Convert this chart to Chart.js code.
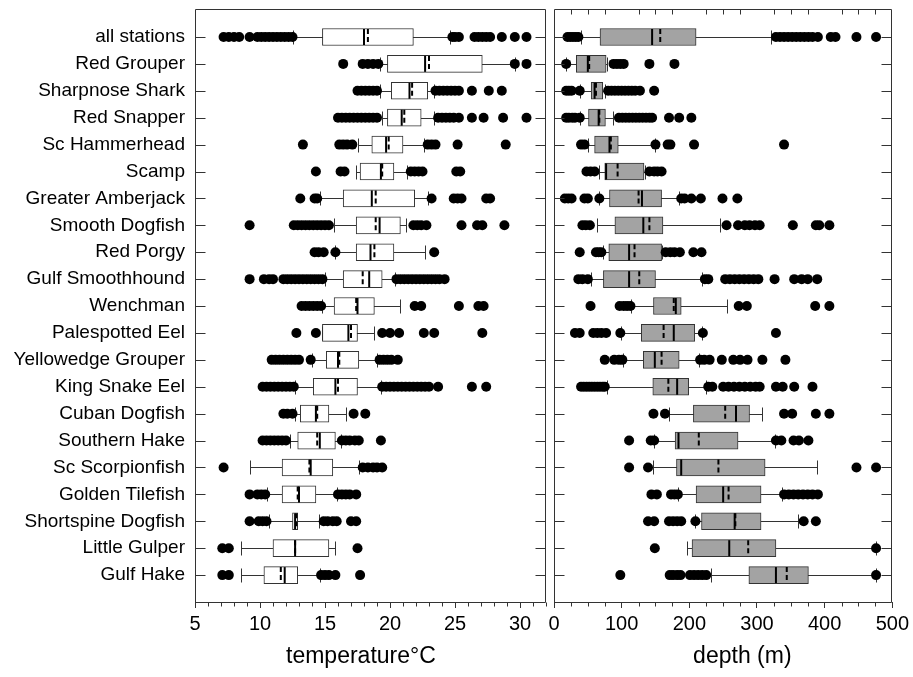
<!DOCTYPE html>
<html>
<head>
<meta charset="utf-8">
<script src="https://cdn.jsdelivr.net/npm/chart.js@4.4.0/dist/chart.umd.min.js"></script>
<style>
  body { margin: 0; background: #fff; }
  #wrap { position: relative; width: 913px; height: 677px; }
  canvas { position: absolute; top: 0; }
</style>
</head>
<body>
<div id="wrap">
  <canvas id="tempChart" width="551" height="677" style="left:0"></canvas>
  <canvas id="depthChart" width="378" height="677" style="left:535px"></canvas>
</div>
<script>
const species = [
  'all stations', 'Red Grouper', 'Sharpnose Shark', 'Red Snapper', 'Sc Hammerhead',
  'Scamp', 'Greater Amberjack', 'Smooth Dogfish', 'Red Porgy', 'Gulf Smoothhound',
  'Wenchman', 'Palespotted Eel', 'Yellowedge Grouper', 'King Snake Eel', 'Cuban Dogfish',
  'Southern Hake', 'Sc Scorpionfish', 'Golden Tilefish', 'Shortspine Dogfish',
  'Little Gulper', 'Gulf Hake'
];

// temperature (deg C): whisker ends, quartiles, median, mean
const tempLo   = [12.5, 19.2, 19.2, 19.4, 17.5, 17.4, 14.6, 15.7, 15.8, 15.0, 14.8, 14.8, 14.0, 12.7, 12.7, 12.3, 9.2, 10.5, 10.7, 8.5, 8.5];
const tempQ1   = [14.8, 19.8, 20.1, 19.8, 18.6, 17.7, 16.4, 17.4, 17.4, 16.4, 15.7, 14.8, 15.1, 14.1, 13.1, 12.9, 11.7, 11.7, 12.5, 11.0, 10.3];
const tempMed  = [18.0, 22.7, 21.5, 20.9, 19.7, 19.3, 18.6, 19.2, 18.5, 18.4, 17.5, 16.8, 16.0, 15.8, 14.3, 14.6, 13.9, 13.0, 12.7, 12.7, 11.9];
const tempMean = [18.3, 23.0, 21.7, 21.1, 19.9, 19.4, 18.9, 18.9, 18.8, 17.9, 17.4, 17.0, 16.1, 16.0, 14.4, 14.4, 13.8, 12.9, 12.8, 12.7, 11.6];
const tempQ3   = [21.8, 27.1, 22.9, 22.4, 21.0, 20.3, 21.9, 20.8, 20.3, 19.4, 18.8, 17.5, 17.6, 17.5, 15.3, 15.8, 15.6, 14.3, 12.9, 15.3, 12.9];
const tempHi   = [24.6, 29.6, 23.4, 23.4, 22.6, 21.3, 22.9, 21.2, 22.7, 20.4, 20.8, 18.8, 19.0, 19.3, 16.6, 16.2, 17.6, 15.9, 14.5, 15.8, 14.6];
const tempOut = [
  [7.2, 7.6, 8.0, 8.4, 9.2, 9.8, 10.1, 10.4, 10.7, 11.0, 11.3, 11.6, 11.9, 12.2, 12.5, 24.8, 25.0, 25.3, 26.5, 26.8, 27.1, 27.4, 27.7, 28.6, 29.6, 30.5],
  [16.4, 17.9, 18.3, 18.7, 19.1, 29.6, 30.5],
  [17.5, 17.8, 18.1, 18.4, 18.7, 19.0, 23.5, 23.8, 24.1, 24.4, 24.7, 25.0, 25.3, 26.3, 27.6, 28.6],
  [16.0, 16.3, 16.6, 16.9, 17.2, 17.5, 17.8, 18.1, 18.4, 18.7, 19.0, 23.7, 24.0, 24.3, 24.6, 24.9, 25.3, 26.3, 27.2, 28.7, 30.5],
  [13.3, 16.1, 16.4, 16.7, 17.1, 22.9, 23.2, 23.5, 25.2, 28.9],
  [14.3, 16.2, 16.5, 21.6, 21.9, 22.2, 22.5, 25.1, 25.4],
  [13.1, 14.2, 14.4, 23.2, 24.9, 25.2, 25.5, 27.4, 27.7],
  [9.2, 12.6, 12.9, 13.2, 13.5, 13.8, 14.1, 14.4, 14.7, 15.0, 15.3, 21.8, 22.1, 22.4, 22.8, 25.5, 26.7, 27.1, 28.8],
  [14.2, 14.5, 14.9, 15.8, 23.4],
  [9.2, 10.3, 10.7, 11.0, 11.8, 12.1, 12.4, 12.7, 13.0, 13.3, 13.6, 13.9, 14.2, 14.5, 14.8, 20.5, 20.8, 21.1, 21.4, 21.7, 22.0, 22.3, 22.6, 22.9, 23.2, 23.5, 23.8, 24.2],
  [13.2, 13.5, 13.8, 14.1, 14.4, 14.7, 21.9, 22.4, 25.3, 26.8, 27.2],
  [12.8, 14.3, 19.4, 20.0, 20.7, 22.6, 23.4, 27.1],
  [10.9, 11.2, 11.5, 11.8, 12.1, 12.4, 12.7, 13.0, 13.9, 19.2, 19.5, 19.8, 20.1, 20.6],
  [10.2, 10.5, 10.8, 11.1, 11.4, 11.7, 12.0, 12.3, 12.6, 19.4, 19.7, 20.0, 20.3, 20.6, 20.9, 21.2, 21.5, 21.8, 22.1, 22.4, 22.7, 23.0, 23.7, 26.3, 27.4],
  [11.8, 12.1, 12.5, 17.2, 18.1],
  [10.2, 10.5, 10.8, 11.1, 11.4, 11.7, 12.0, 16.3, 16.6, 16.9, 17.3, 17.6, 19.3],
  [7.2, 17.9, 18.3, 18.7, 19.0, 19.4],
  [9.2, 9.8, 10.1, 10.4, 16.0, 16.3, 16.6, 16.9, 17.4],
  [9.2, 9.9, 10.2, 10.5, 14.9, 15.2, 15.6, 15.9, 17.0, 17.4],
  [7.1, 7.6, 17.5],
  [7.1, 7.6, 14.7, 15.0, 15.3, 15.8, 17.7]
];
const tempTicks = [5, 10, 15, 20, 25, 30];

// depth (m)
const depthLo   = [40, 18, 38, 38, 50, 66, 67, 63, 72, 55, 114, 99, 102, 78, 170, 148, 146, 183, 209, 197, 232];
const depthQ1   = [68, 33, 55, 51, 60, 75, 82, 90, 81, 73, 147, 129, 132, 146, 206, 179, 181, 210, 218, 204, 288];
const depthMed  = [145, 50, 60, 66, 82, 77, 130, 132, 111, 111, 180, 177, 149, 182, 269, 184, 188, 250, 267, 259, 328];
const depthMean = [157, 52, 62, 67, 84, 94, 125, 141, 119, 126, 177, 162, 159, 169, 253, 214, 243, 258, 268, 287, 344];
const depthQ3   = [210, 77, 72, 76, 95, 133, 159, 161, 159, 150, 188, 208, 185, 199, 289, 272, 312, 306, 306, 328, 376];
const depthHi   = [321, 79, 75, 87, 149, 135, 185, 246, 160, 219, 256, 219, 214, 224, 307, 326, 389, 337, 360, 476, 476];
const depthOut = [
  [20, 24, 28, 32, 36, 328, 334, 340, 346, 352, 358, 364, 370, 376, 382, 390, 409, 416, 447, 476],
  [18, 88, 93, 98, 103, 141, 178],
  [18, 22, 26, 38, 80, 85, 90, 95, 100, 105, 110, 115, 120, 127, 148],
  [18, 22, 27, 31, 38, 96, 101, 106, 111, 116, 121, 126, 131, 136, 141, 145, 170, 185, 203],
  [40, 45, 150, 168, 172, 207, 340],
  [48, 54, 60, 141, 148, 153, 159],
  [16, 21, 26, 45, 50, 67, 188, 193, 203, 217, 249, 271],
  [42, 47, 53, 255, 272, 282, 289, 297, 304, 353, 387, 392, 407],
  [38, 62, 66, 70, 165, 172, 178, 186, 206, 218],
  [36, 42, 50, 223, 228, 253, 260, 267, 274, 281, 288, 295, 302, 326, 355, 366, 375, 389],
  [54, 97, 103, 108, 113, 273, 285, 386, 407],
  [31, 38, 58, 64, 70, 77, 98, 220, 328],
  [75, 89, 96, 101, 216, 222, 230, 248, 265, 275, 286, 308, 342],
  [40, 44, 48, 52, 56, 60, 64, 68, 72, 75, 228, 234, 250, 258, 266, 274, 282, 290, 298, 304, 328, 338, 355, 382],
  [147, 164, 340, 352, 387, 407],
  [111, 143, 148, 328, 336, 354, 362, 376],
  [111, 139, 447, 476],
  [144, 152, 173, 178, 183, 340, 347, 354, 361, 368, 375, 382, 390],
  [139, 148, 170, 176, 182, 188, 209, 369, 387],
  [149, 476],
  [98, 171, 176, 182, 187, 201, 207, 213, 219, 225, 476]
];
const depthTicks = [0, 100, 200, 300, 400, 500];

const INK = '#333';
Chart.defaults.font.family = "'Liberation Sans', Arial, sans-serif";
Chart.defaults.color = '#000';

// whiskers under the boxes, median (solid) and mean (dashed) on top
function boxPlugin(s) {
  return {
    id: 'boxPlot',
    beforeDatasetsDraw(chart) {
      const { ctx, scales: { x, y } } = chart;
      ctx.save();
      ctx.strokeStyle = INK;
      ctx.lineWidth = 1;
      s.lo.forEach((lo, i) => {
        const cy = Math.round(y.getPixelForValue(i)) + 0.5;
        const a = Math.round(x.getPixelForValue(lo)) + 0.5;
        const b = Math.round(x.getPixelForValue(s.hi[i])) + 0.5;
        ctx.beginPath();
        ctx.moveTo(a, cy); ctx.lineTo(b, cy);
        ctx.moveTo(a, cy - 7); ctx.lineTo(a, cy + 7);
        ctx.moveTo(b, cy - 7); ctx.lineTo(b, cy + 7);
        ctx.stroke();
      });
      ctx.restore();
    },
    afterDatasetsDraw(chart) {
      const { ctx, scales: { x, y } } = chart;
      ctx.save();
      ctx.strokeStyle = '#000';
      ctx.lineWidth = 2;
      s.med.forEach((m, i) => {
        const cy = y.getPixelForValue(i);
        const px = x.getPixelForValue(m);
        ctx.setLineDash([]);
        ctx.beginPath();
        ctx.moveTo(px, cy - 8); ctx.lineTo(px, cy + 8);
        ctx.stroke();
        const pm = x.getPixelForValue(s.mean[i]);
        ctx.setLineDash([5, 3]);
        ctx.beginPath();
        ctx.moveTo(pm, cy - 8); ctx.lineTo(pm, cy + 8);
        ctx.stroke();
      });
      ctx.restore();
    }
  };
}

// plot frame, inward category ticks, minor ticks on the value axis
function framePlugin(f) {
  return {
    id: 'frame',
    afterDraw(chart) {
      const { ctx, chartArea: a, scales: { x, y } } = chart;
      const L = Math.round(a.left) + 0.5, R = Math.round(a.right) - 0.5;
      const T = Math.round(a.top) + 0.5, B = Math.round(a.bottom) + 0.5;
      ctx.save();
      ctx.strokeStyle = INK;
      ctx.lineWidth = 1;
      ctx.beginPath();
      ctx.rect(L, T, R - L, B - T);
      species.forEach((_, i) => {
        const cy = Math.round(y.getPixelForValue(i)) + 0.5;
        ctx.moveTo(L, cy); ctx.lineTo(L + 10, cy);
        ctx.moveTo(R, cy); ctx.lineTo(R - 10, cy);
      });
      for (let v = x.min; v <= x.max; v += f.step) {
        if (v % f.major === 0) continue;
        const px = Math.round(x.getPixelForValue(v)) + 0.5;
        ctx.moveTo(px, B); ctx.lineTo(px, B + 4);
        if (f.top) { ctx.moveTo(px, T); ctx.lineTo(px, T + 5); }
      }
      ctx.stroke();
      ctx.restore();
    }
  };
}

function outliers(groups) {
  return groups.flatMap((vals, i) => vals.map(v => ({ x: v, y: i })));
}

function makeChart(id, cfg) {
  return new Chart(document.getElementById(id), {
    type: 'bar',
    data: {
      datasets: [
        {
          type: 'scatter',
          data: outliers(cfg.out),
          pointRadius: 5,
          pointHoverRadius: 5,
          backgroundColor: '#000',
          borderWidth: 0
        },
        {
          type: 'bar',
          data: cfg.q1.map((q, i) => ({ y: i, x: [q, cfg.q3[i]] })),
          backgroundColor: cfg.fill,
          borderColor: INK,
          borderWidth: 1,
          borderSkipped: false,
          barThickness: 17,
          grouped: false
        }
      ]
    },
    options: {
      indexAxis: 'y',
      responsive: false,
      animation: false,
      layout: { padding: cfg.padding },
      plugins: { legend: { display: false }, tooltip: { enabled: false } },
      scales: {
        x: {
          type: 'linear',
          position: 'bottom',
          min: cfg.min,
          max: cfg.max,
          afterBuildTicks: s => { s.ticks = cfg.ticks.map(v => ({ value: v })); },
          afterFit: s => { s.height = 75; },
          border: { display: false },
          grid: { drawOnChartArea: false, drawTicks: true, tickLength: 6, color: INK },
          ticks: { font: { size: 20 }, padding: 4, maxRotation: 0, autoSkip: false },
          title: { display: true, text: cfg.title, font: { size: 23 }, padding: { top: 0, bottom: 7 } }
        },
        y: {
          type: 'linear',
          reverse: true,
          offset: false,
          min: -1.04,
          max: 21.0,
          display: cfg.labels,
          afterBuildTicks: s => { s.ticks = species.map((_, i) => ({ value: i })); },
          afterFit: s => {
            if (cfg.labels) s.width = 195;
            s.paddingTop = 0;
            s.paddingBottom = 0;
          },
          border: { display: false },
          grid: { display: false, drawTicks: false },
          ticks: { callback: v => species[v], font: { size: 19 }, padding: 10, autoSkip: false }
        }
      }
    },
    plugins: [boxPlugin(cfg.stats), framePlugin(cfg.frame)]
  });
}

makeChart('tempChart', {
  out: tempOut, q1: tempQ1, q3: tempQ3, fill: '#ffffff',
  stats: { lo: tempLo, hi: tempHi, med: tempMed, mean: tempMean },
  frame: { step: 1, major: 5, top: false },
  min: 5, max: 32, ticks: tempTicks, title: 'temperature°C   ', labels: true,
  padding: { top: 9, right: 3, left: 0, bottom: 0 }
});

makeChart('depthChart', {
  out: depthOut, q1: depthQ1, q3: depthQ3, fill: '#a3a3a3',
  stats: { lo: depthLo, hi: depthHi, med: depthMed, mean: depthMean },
  frame: { step: 25, major: 100, top: true },
  min: 0, max: 500, ticks: depthTicks, title: '      depth (m)', labels: false,
  padding: { top: 9, right: 18, left: 19, bottom: 0 }
});
</script>
</body>
</html>
